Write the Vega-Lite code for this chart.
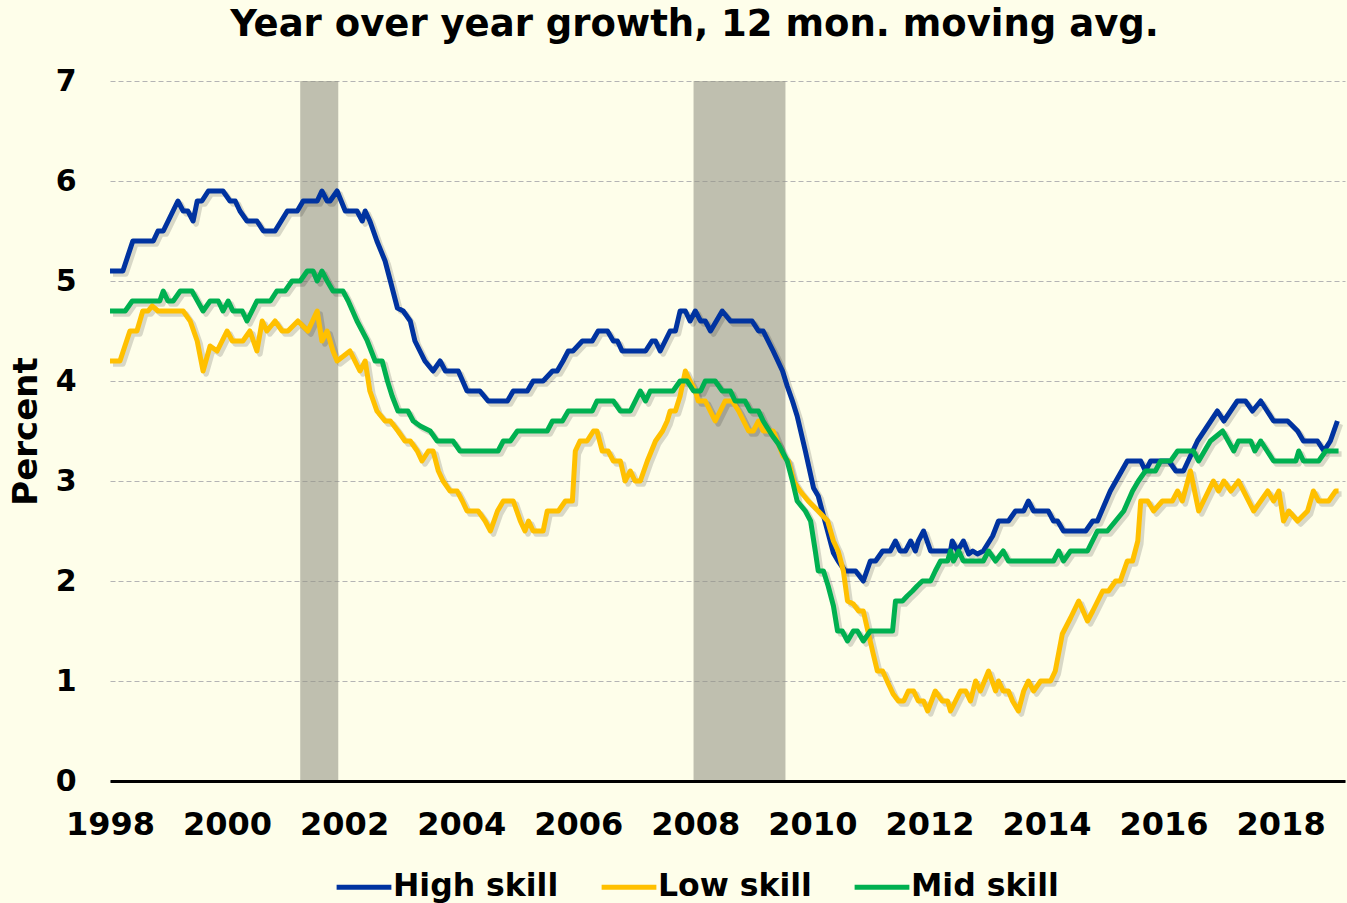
{
  "$schema": "https://vega.github.io/schema/vega-lite/v6.json",
  "width": 1235,
  "height": 700,
  "autosize": {"type": "none"},
  "padding": {"left": 110, "top": 81, "right": 2, "bottom": 122},
  "background": "#FEFEEA",
  "config": {"view": {"stroke": null}, "font": "DejaVu Sans"},
  "title": {"text": "Year over year growth, 12 mon. moving avg.", "font": "DejaVu Sans", "fontSize": 37, "fontWeight": "bold", "color": "#000000", "anchor": "middle", "frame": "group", "dx": -33, "offset": 22},
  "datasets": {
    "rec": [{"d": 2001.25, "d2": 2001.9}, {"d": 2007.97, "d2": 2009.54}],
    "lines": [
      {"s":"High skill","d":1998.0,"v":5.1},{"s":"High skill","d":1998.22,"v":5.1},{"s":"High skill","d":1998.39,"v":5.4},{"s":"High skill","d":1998.74,"v":5.4},{"s":"High skill","d":1998.82,"v":5.5},{"s":"High skill","d":1998.91,"v":5.5},{"s":"High skill","d":1999.16,"v":5.8},{"s":"High skill","d":1999.25,"v":5.7},{"s":"High skill","d":1999.33,"v":5.7},{"s":"High skill","d":1999.42,"v":5.6},{"s":"High skill","d":1999.49,"v":5.8},{"s":"High skill","d":1999.57,"v":5.8},{"s":"High skill","d":1999.68,"v":5.9},{"s":"High skill","d":1999.93,"v":5.9},{"s":"High skill","d":2000.05,"v":5.8},{"s":"High skill","d":2000.14,"v":5.8},{"s":"High skill","d":2000.22,"v":5.7},{"s":"High skill","d":2000.34,"v":5.6},{"s":"High skill","d":2000.51,"v":5.6},{"s":"High skill","d":2000.62,"v":5.5},{"s":"High skill","d":2000.82,"v":5.5},{"s":"High skill","d":2001.03,"v":5.7},{"s":"High skill","d":2001.2,"v":5.7},{"s":"High skill","d":2001.3,"v":5.8},{"s":"High skill","d":2001.54,"v":5.8},{"s":"High skill","d":2001.62,"v":5.9},{"s":"High skill","d":2001.71,"v":5.8},{"s":"High skill","d":2001.76,"v":5.8},{"s":"High skill","d":2001.88,"v":5.9},{"s":"High skill","d":2002.02,"v":5.7},{"s":"High skill","d":2002.22,"v":5.7},{"s":"High skill","d":2002.31,"v":5.6},{"s":"High skill","d":2002.36,"v":5.7},{"s":"High skill","d":2002.44,"v":5.6},{"s":"High skill","d":2002.56,"v":5.4},{"s":"High skill","d":2002.7,"v":5.2},{"s":"High skill","d":2002.79,"v":5.0},{"s":"High skill","d":2002.91,"v":4.73},{"s":"High skill","d":2003.01,"v":4.7},{"s":"High skill","d":2003.13,"v":4.6},{"s":"High skill","d":2003.21,"v":4.4},{"s":"High skill","d":2003.38,"v":4.2},{"s":"High skill","d":2003.52,"v":4.1},{"s":"High skill","d":2003.64,"v":4.2},{"s":"High skill","d":2003.73,"v":4.1},{"s":"High skill","d":2003.95,"v":4.1},{"s":"High skill","d":2004.1,"v":3.9},{"s":"High skill","d":2004.32,"v":3.9},{"s":"High skill","d":2004.46,"v":3.8},{"s":"High skill","d":2004.79,"v":3.8},{"s":"High skill","d":2004.89,"v":3.9},{"s":"High skill","d":2005.13,"v":3.9},{"s":"High skill","d":2005.23,"v":4.0},{"s":"High skill","d":2005.4,"v":4.0},{"s":"High skill","d":2005.56,"v":4.1},{"s":"High skill","d":2005.64,"v":4.1},{"s":"High skill","d":2005.74,"v":4.2},{"s":"High skill","d":2005.83,"v":4.3},{"s":"High skill","d":2005.91,"v":4.3},{"s":"High skill","d":2006.07,"v":4.4},{"s":"High skill","d":2006.24,"v":4.4},{"s":"High skill","d":2006.34,"v":4.5},{"s":"High skill","d":2006.5,"v":4.5},{"s":"High skill","d":2006.6,"v":4.4},{"s":"High skill","d":2006.67,"v":4.4},{"s":"High skill","d":2006.75,"v":4.3},{"s":"High skill","d":2007.15,"v":4.3},{"s":"High skill","d":2007.26,"v":4.4},{"s":"High skill","d":2007.32,"v":4.4},{"s":"High skill","d":2007.4,"v":4.3},{"s":"High skill","d":2007.57,"v":4.5},{"s":"High skill","d":2007.66,"v":4.5},{"s":"High skill","d":2007.74,"v":4.7},{"s":"High skill","d":2007.83,"v":4.7},{"s":"High skill","d":2007.91,"v":4.6},{"s":"High skill","d":2008.0,"v":4.7},{"s":"High skill","d":2008.09,"v":4.6},{"s":"High skill","d":2008.17,"v":4.6},{"s":"High skill","d":2008.26,"v":4.5},{"s":"High skill","d":2008.46,"v":4.7},{"s":"High skill","d":2008.6,"v":4.6},{"s":"High skill","d":2008.97,"v":4.6},{"s":"High skill","d":2009.08,"v":4.5},{"s":"High skill","d":2009.16,"v":4.5},{"s":"High skill","d":2009.33,"v":4.3},{"s":"High skill","d":2009.49,"v":4.1},{"s":"High skill","d":2009.57,"v":3.95},{"s":"High skill","d":2009.66,"v":3.8},{"s":"High skill","d":2009.74,"v":3.65},{"s":"High skill","d":2009.88,"v":3.3},{"s":"High skill","d":2010.02,"v":2.93},{"s":"High skill","d":2010.1,"v":2.85},{"s":"High skill","d":2010.26,"v":2.5},{"s":"High skill","d":2010.36,"v":2.28},{"s":"High skill","d":2010.44,"v":2.2},{"s":"High skill","d":2010.56,"v":2.1},{"s":"High skill","d":2010.74,"v":2.1},{"s":"High skill","d":2010.87,"v":2.0},{"s":"High skill","d":2010.99,"v":2.2},{"s":"High skill","d":2011.08,"v":2.2},{"s":"High skill","d":2011.2,"v":2.3},{"s":"High skill","d":2011.33,"v":2.3},{"s":"High skill","d":2011.42,"v":2.4},{"s":"High skill","d":2011.5,"v":2.3},{"s":"High skill","d":2011.59,"v":2.3},{"s":"High skill","d":2011.68,"v":2.4},{"s":"High skill","d":2011.76,"v":2.3},{"s":"High skill","d":2011.81,"v":2.4},{"s":"High skill","d":2011.9,"v":2.5},{"s":"High skill","d":2012.02,"v":2.3},{"s":"High skill","d":2012.36,"v":2.3},{"s":"High skill","d":2012.39,"v":2.4},{"s":"High skill","d":2012.48,"v":2.3},{"s":"High skill","d":2012.58,"v":2.4},{"s":"High skill","d":2012.67,"v":2.27},{"s":"High skill","d":2012.74,"v":2.3},{"s":"High skill","d":2012.82,"v":2.27},{"s":"High skill","d":2012.92,"v":2.3},{"s":"High skill","d":2013.08,"v":2.45},{"s":"High skill","d":2013.18,"v":2.6},{"s":"High skill","d":2013.35,"v":2.6},{"s":"High skill","d":2013.47,"v":2.7},{"s":"High skill","d":2013.61,"v":2.7},{"s":"High skill","d":2013.69,"v":2.8},{"s":"High skill","d":2013.78,"v":2.7},{"s":"High skill","d":2014.03,"v":2.7},{"s":"High skill","d":2014.12,"v":2.6},{"s":"High skill","d":2014.19,"v":2.6},{"s":"High skill","d":2014.29,"v":2.5},{"s":"High skill","d":2014.67,"v":2.5},{"s":"High skill","d":2014.79,"v":2.6},{"s":"High skill","d":2014.87,"v":2.6},{"s":"High skill","d":2015.09,"v":2.9},{"s":"High skill","d":2015.38,"v":3.2},{"s":"High skill","d":2015.61,"v":3.2},{"s":"High skill","d":2015.69,"v":3.1},{"s":"High skill","d":2015.78,"v":3.2},{"s":"High skill","d":2016.09,"v":3.2},{"s":"High skill","d":2016.21,"v":3.1},{"s":"High skill","d":2016.34,"v":3.1},{"s":"High skill","d":2016.58,"v":3.4},{"s":"High skill","d":2016.92,"v":3.7},{"s":"High skill","d":2017.03,"v":3.6},{"s":"High skill","d":2017.26,"v":3.8},{"s":"High skill","d":2017.4,"v":3.8},{"s":"High skill","d":2017.52,"v":3.7},{"s":"High skill","d":2017.66,"v":3.8},{"s":"High skill","d":2017.88,"v":3.6},{"s":"High skill","d":2018.12,"v":3.6},{"s":"High skill","d":2018.29,"v":3.5},{"s":"High skill","d":2018.39,"v":3.4},{"s":"High skill","d":2018.63,"v":3.4},{"s":"High skill","d":2018.74,"v":3.3},{"s":"High skill","d":2018.85,"v":3.4},{"s":"High skill","d":2018.97,"v":3.6},
      {"s":"Low skill","d":1998.0,"v":4.2},{"s":"Low skill","d":1998.17,"v":4.2},{"s":"Low skill","d":1998.34,"v":4.5},{"s":"Low skill","d":1998.46,"v":4.5},{"s":"Low skill","d":1998.56,"v":4.7},{"s":"Low skill","d":1998.65,"v":4.7},{"s":"Low skill","d":1998.72,"v":4.75},{"s":"Low skill","d":1998.82,"v":4.7},{"s":"Low skill","d":1999.25,"v":4.7},{"s":"Low skill","d":1999.37,"v":4.6},{"s":"Low skill","d":1999.49,"v":4.4},{"s":"Low skill","d":1999.59,"v":4.1},{"s":"Low skill","d":1999.71,"v":4.35},{"s":"Low skill","d":1999.83,"v":4.3},{"s":"Low skill","d":2000.0,"v":4.5},{"s":"Low skill","d":2000.09,"v":4.4},{"s":"Low skill","d":2000.27,"v":4.4},{"s":"Low skill","d":2000.39,"v":4.5},{"s":"Low skill","d":2000.51,"v":4.3},{"s":"Low skill","d":2000.6,"v":4.6},{"s":"Low skill","d":2000.68,"v":4.5},{"s":"Low skill","d":2000.82,"v":4.6},{"s":"Low skill","d":2000.94,"v":4.5},{"s":"Low skill","d":2001.04,"v":4.5},{"s":"Low skill","d":2001.21,"v":4.6},{"s":"Low skill","d":2001.38,"v":4.5},{"s":"Low skill","d":2001.54,"v":4.7},{"s":"Low skill","d":2001.62,"v":4.4},{"s":"Low skill","d":2001.71,"v":4.5},{"s":"Low skill","d":2001.81,"v":4.3},{"s":"Low skill","d":2001.88,"v":4.2},{"s":"Low skill","d":2002.1,"v":4.3},{"s":"Low skill","d":2002.27,"v":4.1},{"s":"Low skill","d":2002.36,"v":4.2},{"s":"Low skill","d":2002.44,"v":3.9},{"s":"Low skill","d":2002.56,"v":3.7},{"s":"Low skill","d":2002.7,"v":3.6},{"s":"Low skill","d":2002.79,"v":3.6},{"s":"Low skill","d":2002.92,"v":3.5},{"s":"Low skill","d":2003.04,"v":3.4},{"s":"Low skill","d":2003.13,"v":3.4},{"s":"Low skill","d":2003.25,"v":3.3},{"s":"Low skill","d":2003.33,"v":3.2},{"s":"Low skill","d":2003.44,"v":3.3},{"s":"Low skill","d":2003.52,"v":3.3},{"s":"Low skill","d":2003.61,"v":3.1},{"s":"Low skill","d":2003.69,"v":3.0},{"s":"Low skill","d":2003.81,"v":2.9},{"s":"Low skill","d":2003.93,"v":2.9},{"s":"Low skill","d":2004.02,"v":2.8},{"s":"Low skill","d":2004.1,"v":2.7},{"s":"Low skill","d":2004.29,"v":2.7},{"s":"Low skill","d":2004.41,"v":2.6},{"s":"Low skill","d":2004.5,"v":2.5},{"s":"Low skill","d":2004.62,"v":2.7},{"s":"Low skill","d":2004.72,"v":2.8},{"s":"Low skill","d":2004.89,"v":2.8},{"s":"Low skill","d":2005.01,"v":2.6},{"s":"Low skill","d":2005.09,"v":2.5},{"s":"Low skill","d":2005.15,"v":2.6},{"s":"Low skill","d":2005.23,"v":2.5},{"s":"Low skill","d":2005.4,"v":2.5},{"s":"Low skill","d":2005.47,"v":2.7},{"s":"Low skill","d":2005.66,"v":2.7},{"s":"Low skill","d":2005.78,"v":2.8},{"s":"Low skill","d":2005.9,"v":2.8},{"s":"Low skill","d":2005.95,"v":3.3},{"s":"Low skill","d":2006.03,"v":3.4},{"s":"Low skill","d":2006.15,"v":3.4},{"s":"Low skill","d":2006.26,"v":3.5},{"s":"Low skill","d":2006.32,"v":3.5},{"s":"Low skill","d":2006.41,"v":3.3},{"s":"Low skill","d":2006.51,"v":3.3},{"s":"Low skill","d":2006.6,"v":3.2},{"s":"Low skill","d":2006.72,"v":3.2},{"s":"Low skill","d":2006.8,"v":3.0},{"s":"Low skill","d":2006.89,"v":3.1},{"s":"Low skill","d":2006.97,"v":3.0},{"s":"Low skill","d":2007.06,"v":3.0},{"s":"Low skill","d":2007.18,"v":3.2},{"s":"Low skill","d":2007.32,"v":3.4},{"s":"Low skill","d":2007.44,"v":3.5},{"s":"Low skill","d":2007.52,"v":3.6},{"s":"Low skill","d":2007.57,"v":3.7},{"s":"Low skill","d":2007.66,"v":3.7},{"s":"Low skill","d":2007.74,"v":3.85},{"s":"Low skill","d":2007.83,"v":4.1},{"s":"Low skill","d":2007.91,"v":4.0},{"s":"Low skill","d":2008.0,"v":3.9},{"s":"Low skill","d":2008.05,"v":3.8},{"s":"Low skill","d":2008.17,"v":3.8},{"s":"Low skill","d":2008.34,"v":3.6},{"s":"Low skill","d":2008.51,"v":3.8},{"s":"Low skill","d":2008.63,"v":3.8},{"s":"Low skill","d":2008.74,"v":3.7},{"s":"Low skill","d":2008.91,"v":3.5},{"s":"Low skill","d":2008.99,"v":3.5},{"s":"Low skill","d":2009.08,"v":3.6},{"s":"Low skill","d":2009.16,"v":3.5},{"s":"Low skill","d":2009.33,"v":3.5},{"s":"Low skill","d":2009.4,"v":3.4},{"s":"Low skill","d":2009.5,"v":3.25},{"s":"Low skill","d":2009.59,"v":3.2},{"s":"Low skill","d":2009.68,"v":3.0},{"s":"Low skill","d":2009.79,"v":2.9},{"s":"Low skill","d":2009.93,"v":2.8},{"s":"Low skill","d":2010.1,"v":2.7},{"s":"Low skill","d":2010.26,"v":2.6},{"s":"Low skill","d":2010.36,"v":2.4},{"s":"Low skill","d":2010.44,"v":2.3},{"s":"Low skill","d":2010.53,"v":2.1},{"s":"Low skill","d":2010.6,"v":1.8},{"s":"Low skill","d":2010.7,"v":1.77},{"s":"Low skill","d":2010.79,"v":1.7},{"s":"Low skill","d":2010.87,"v":1.7},{"s":"Low skill","d":2010.96,"v":1.47},{"s":"Low skill","d":2011.04,"v":1.27},{"s":"Low skill","d":2011.11,"v":1.1},{"s":"Low skill","d":2011.2,"v":1.1},{"s":"Low skill","d":2011.3,"v":0.97},{"s":"Low skill","d":2011.38,"v":0.87},{"s":"Low skill","d":2011.47,"v":0.8},{"s":"Low skill","d":2011.56,"v":0.8},{"s":"Low skill","d":2011.64,"v":0.9},{"s":"Low skill","d":2011.73,"v":0.9},{"s":"Low skill","d":2011.81,"v":0.8},{"s":"Low skill","d":2011.9,"v":0.8},{"s":"Low skill","d":2011.97,"v":0.7},{"s":"Low skill","d":2012.1,"v":0.9},{"s":"Low skill","d":2012.22,"v":0.8},{"s":"Low skill","d":2012.31,"v":0.8},{"s":"Low skill","d":2012.36,"v":0.7},{"s":"Low skill","d":2012.53,"v":0.9},{"s":"Low skill","d":2012.62,"v":0.9},{"s":"Low skill","d":2012.7,"v":0.8},{"s":"Low skill","d":2012.79,"v":1.0},{"s":"Low skill","d":2012.87,"v":0.9},{"s":"Low skill","d":2013.01,"v":1.1},{"s":"Low skill","d":2013.13,"v":0.9},{"s":"Low skill","d":2013.18,"v":1.0},{"s":"Low skill","d":2013.26,"v":0.9},{"s":"Low skill","d":2013.35,"v":0.9},{"s":"Low skill","d":2013.42,"v":0.8},{"s":"Low skill","d":2013.52,"v":0.7},{"s":"Low skill","d":2013.61,"v":0.9},{"s":"Low skill","d":2013.69,"v":1.0},{"s":"Low skill","d":2013.78,"v":0.9},{"s":"Low skill","d":2013.9,"v":1.0},{"s":"Low skill","d":2014.07,"v":1.0},{"s":"Low skill","d":2014.15,"v":1.1},{"s":"Low skill","d":2014.27,"v":1.47},{"s":"Low skill","d":2014.41,"v":1.63},{"s":"Low skill","d":2014.55,"v":1.8},{"s":"Low skill","d":2014.7,"v":1.6},{"s":"Low skill","d":2014.79,"v":1.7},{"s":"Low skill","d":2014.96,"v":1.9},{"s":"Low skill","d":2015.06,"v":1.9},{"s":"Low skill","d":2015.18,"v":2.0},{"s":"Low skill","d":2015.26,"v":2.0},{"s":"Low skill","d":2015.38,"v":2.2},{"s":"Low skill","d":2015.47,"v":2.2},{"s":"Low skill","d":2015.56,"v":2.4},{"s":"Low skill","d":2015.61,"v":2.8},{"s":"Low skill","d":2015.73,"v":2.8},{"s":"Low skill","d":2015.83,"v":2.7},{"s":"Low skill","d":2015.98,"v":2.8},{"s":"Low skill","d":2016.15,"v":2.8},{"s":"Low skill","d":2016.24,"v":2.9},{"s":"Low skill","d":2016.32,"v":2.8},{"s":"Low skill","d":2016.46,"v":3.1},{"s":"Low skill","d":2016.6,"v":2.7},{"s":"Low skill","d":2016.85,"v":3.0},{"s":"Low skill","d":2016.94,"v":2.9},{"s":"Low skill","d":2017.03,"v":3.0},{"s":"Low skill","d":2017.15,"v":2.9},{"s":"Low skill","d":2017.28,"v":3.0},{"s":"Low skill","d":2017.54,"v":2.7},{"s":"Low skill","d":2017.78,"v":2.9},{"s":"Low skill","d":2017.88,"v":2.8},{"s":"Low skill","d":2017.97,"v":2.9},{"s":"Low skill","d":2018.05,"v":2.6},{"s":"Low skill","d":2018.14,"v":2.7},{"s":"Low skill","d":2018.29,"v":2.6},{"s":"Low skill","d":2018.46,"v":2.7},{"s":"Low skill","d":2018.56,"v":2.9},{"s":"Low skill","d":2018.65,"v":2.8},{"s":"Low skill","d":2018.82,"v":2.8},{"s":"Low skill","d":2018.94,"v":2.9},{"s":"Low skill","d":2018.99,"v":2.9},
      {"s":"Mid skill","d":1998.0,"v":4.7},{"s":"Mid skill","d":1998.26,"v":4.7},{"s":"Mid skill","d":1998.38,"v":4.8},{"s":"Mid skill","d":1998.85,"v":4.8},{"s":"Mid skill","d":1998.91,"v":4.9},{"s":"Mid skill","d":1998.99,"v":4.8},{"s":"Mid skill","d":1999.08,"v":4.8},{"s":"Mid skill","d":1999.2,"v":4.9},{"s":"Mid skill","d":1999.4,"v":4.9},{"s":"Mid skill","d":1999.59,"v":4.7},{"s":"Mid skill","d":1999.71,"v":4.8},{"s":"Mid skill","d":1999.85,"v":4.8},{"s":"Mid skill","d":1999.93,"v":4.7},{"s":"Mid skill","d":2000.02,"v":4.8},{"s":"Mid skill","d":2000.1,"v":4.7},{"s":"Mid skill","d":2000.26,"v":4.7},{"s":"Mid skill","d":2000.34,"v":4.6},{"s":"Mid skill","d":2000.51,"v":4.8},{"s":"Mid skill","d":2000.74,"v":4.8},{"s":"Mid skill","d":2000.85,"v":4.9},{"s":"Mid skill","d":2000.99,"v":4.9},{"s":"Mid skill","d":2001.11,"v":5.0},{"s":"Mid skill","d":2001.25,"v":5.0},{"s":"Mid skill","d":2001.37,"v":5.1},{"s":"Mid skill","d":2001.47,"v":5.1},{"s":"Mid skill","d":2001.54,"v":5.0},{"s":"Mid skill","d":2001.62,"v":5.1},{"s":"Mid skill","d":2001.71,"v":5.0},{"s":"Mid skill","d":2001.81,"v":4.9},{"s":"Mid skill","d":2001.98,"v":4.9},{"s":"Mid skill","d":2002.07,"v":4.8},{"s":"Mid skill","d":2002.22,"v":4.6},{"s":"Mid skill","d":2002.31,"v":4.5},{"s":"Mid skill","d":2002.39,"v":4.41},{"s":"Mid skill","d":2002.53,"v":4.2},{"s":"Mid skill","d":2002.65,"v":4.2},{"s":"Mid skill","d":2002.74,"v":4.0},{"s":"Mid skill","d":2002.82,"v":3.85},{"s":"Mid skill","d":2002.92,"v":3.7},{"s":"Mid skill","d":2003.09,"v":3.7},{"s":"Mid skill","d":2003.18,"v":3.6},{"s":"Mid skill","d":2003.3,"v":3.55},{"s":"Mid skill","d":2003.47,"v":3.5},{"s":"Mid skill","d":2003.59,"v":3.4},{"s":"Mid skill","d":2003.86,"v":3.4},{"s":"Mid skill","d":2003.98,"v":3.3},{"s":"Mid skill","d":2004.63,"v":3.3},{"s":"Mid skill","d":2004.72,"v":3.4},{"s":"Mid skill","d":2004.84,"v":3.4},{"s":"Mid skill","d":2004.96,"v":3.5},{"s":"Mid skill","d":2005.47,"v":3.5},{"s":"Mid skill","d":2005.56,"v":3.6},{"s":"Mid skill","d":2005.73,"v":3.6},{"s":"Mid skill","d":2005.83,"v":3.7},{"s":"Mid skill","d":2006.24,"v":3.7},{"s":"Mid skill","d":2006.32,"v":3.8},{"s":"Mid skill","d":2006.6,"v":3.8},{"s":"Mid skill","d":2006.72,"v":3.7},{"s":"Mid skill","d":2006.89,"v":3.7},{"s":"Mid skill","d":2007.06,"v":3.9},{"s":"Mid skill","d":2007.15,"v":3.8},{"s":"Mid skill","d":2007.23,"v":3.9},{"s":"Mid skill","d":2007.62,"v":3.9},{"s":"Mid skill","d":2007.74,"v":4.0},{"s":"Mid skill","d":2007.86,"v":4.0},{"s":"Mid skill","d":2007.97,"v":3.9},{"s":"Mid skill","d":2008.09,"v":3.9},{"s":"Mid skill","d":2008.17,"v":4.0},{"s":"Mid skill","d":2008.34,"v":4.0},{"s":"Mid skill","d":2008.46,"v":3.9},{"s":"Mid skill","d":2008.6,"v":3.9},{"s":"Mid skill","d":2008.68,"v":3.8},{"s":"Mid skill","d":2008.85,"v":3.8},{"s":"Mid skill","d":2008.94,"v":3.7},{"s":"Mid skill","d":2009.08,"v":3.7},{"s":"Mid skill","d":2009.16,"v":3.6},{"s":"Mid skill","d":2009.32,"v":3.45},{"s":"Mid skill","d":2009.42,"v":3.37},{"s":"Mid skill","d":2009.57,"v":3.2},{"s":"Mid skill","d":2009.66,"v":3.0},{"s":"Mid skill","d":2009.74,"v":2.8},{"s":"Mid skill","d":2009.88,"v":2.7},{"s":"Mid skill","d":2009.97,"v":2.6},{"s":"Mid skill","d":2010.05,"v":2.3},{"s":"Mid skill","d":2010.1,"v":2.1},{"s":"Mid skill","d":2010.19,"v":2.1},{"s":"Mid skill","d":2010.27,"v":1.95},{"s":"Mid skill","d":2010.36,"v":1.75},{"s":"Mid skill","d":2010.43,"v":1.5},{"s":"Mid skill","d":2010.51,"v":1.5},{"s":"Mid skill","d":2010.6,"v":1.4},{"s":"Mid skill","d":2010.7,"v":1.5},{"s":"Mid skill","d":2010.77,"v":1.5},{"s":"Mid skill","d":2010.87,"v":1.4},{"s":"Mid skill","d":2010.99,"v":1.5},{"s":"Mid skill","d":2011.37,"v":1.5},{"s":"Mid skill","d":2011.42,"v":1.8},{"s":"Mid skill","d":2011.54,"v":1.8},{"s":"Mid skill","d":2011.62,"v":1.85},{"s":"Mid skill","d":2011.71,"v":1.9},{"s":"Mid skill","d":2011.79,"v":1.95},{"s":"Mid skill","d":2011.88,"v":2.0},{"s":"Mid skill","d":2012.02,"v":2.0},{"s":"Mid skill","d":2012.1,"v":2.1},{"s":"Mid skill","d":2012.19,"v":2.2},{"s":"Mid skill","d":2012.31,"v":2.2},{"s":"Mid skill","d":2012.36,"v":2.3},{"s":"Mid skill","d":2012.41,"v":2.2},{"s":"Mid skill","d":2012.5,"v":2.3},{"s":"Mid skill","d":2012.58,"v":2.2},{"s":"Mid skill","d":2012.92,"v":2.2},{"s":"Mid skill","d":2013.01,"v":2.3},{"s":"Mid skill","d":2013.13,"v":2.2},{"s":"Mid skill","d":2013.26,"v":2.3},{"s":"Mid skill","d":2013.35,"v":2.2},{"s":"Mid skill","d":2014.12,"v":2.2},{"s":"Mid skill","d":2014.21,"v":2.3},{"s":"Mid skill","d":2014.29,"v":2.2},{"s":"Mid skill","d":2014.41,"v":2.3},{"s":"Mid skill","d":2014.7,"v":2.3},{"s":"Mid skill","d":2014.87,"v":2.5},{"s":"Mid skill","d":2015.04,"v":2.5},{"s":"Mid skill","d":2015.18,"v":2.6},{"s":"Mid skill","d":2015.32,"v":2.7},{"s":"Mid skill","d":2015.47,"v":2.9},{"s":"Mid skill","d":2015.57,"v":3.0},{"s":"Mid skill","d":2015.69,"v":3.1},{"s":"Mid skill","d":2015.86,"v":3.1},{"s":"Mid skill","d":2015.95,"v":3.2},{"s":"Mid skill","d":2016.12,"v":3.2},{"s":"Mid skill","d":2016.24,"v":3.3},{"s":"Mid skill","d":2016.51,"v":3.3},{"s":"Mid skill","d":2016.6,"v":3.2},{"s":"Mid skill","d":2016.8,"v":3.4},{"s":"Mid skill","d":2017.01,"v":3.5},{"s":"Mid skill","d":2017.2,"v":3.3},{"s":"Mid skill","d":2017.28,"v":3.4},{"s":"Mid skill","d":2017.49,"v":3.4},{"s":"Mid skill","d":2017.56,"v":3.3},{"s":"Mid skill","d":2017.66,"v":3.4},{"s":"Mid skill","d":2017.88,"v":3.2},{"s":"Mid skill","d":2018.26,"v":3.2},{"s":"Mid skill","d":2018.31,"v":3.3},{"s":"Mid skill","d":2018.39,"v":3.2},{"s":"Mid skill","d":2018.65,"v":3.2},{"s":"Mid skill","d":2018.77,"v":3.3},{"s":"Mid skill","d":2018.99,"v":3.3}
    ]
  },
  "encoding": {
    "x": {
      "field": "d", "type": "quantitative",
      "scale": {"domain": [1998, 2019.1], "nice": false, "zero": false},
      "axis": {"values": [1998, 2000, 2002, 2004, 2006, 2008, 2010, 2012, 2014, 2016, 2018], "format": "d", "title": null, "grid": false, "ticks": false, "tickSize": 0, "domain": true, "domainColor": "#000000", "domainWidth": 3, "labelFont": "DejaVu Sans", "labelFontSize": 32, "labelFontWeight": "bold", "labelColor": "#000000", "labelPadding": 28, "labelFlush": false, "labelOverlap": false, "zindex": 1}
    }
  },
  "layer": [
    {
      "data": {"name": "rec"},
      "mark": {"type": "rect", "color": "#959587", "opacity": 0.6},
      "encoding": {"x2": {"field": "d2"}}
    },
    {
      "data": {"name": "lines"},
      "mark": {"type": "line", "color": "#000000", "opacity": 0.15, "strokeWidth": 5.5, "xOffset": 3, "yOffset": 3, "strokeJoin": "round"},
      "encoding": {
        "y": {"field": "v", "type": "quantitative", "scale": {"domain": [0, 7], "nice": false}},
        "detail": {"field": "s"},
        "order": {"field": "d", "type": "quantitative"}
      }
    },
    {
      "data": {"name": "lines"},
      "mark": {"type": "line", "strokeWidth": 5, "strokeJoin": "round"},
      "encoding": {
        "y": {
          "field": "v", "type": "quantitative",
          "scale": {"domain": [0, 7], "nice": false},
          "axis": {"values": [0, 1, 2, 3, 4, 5, 6, 7], "format": "d", "title": "Percent", "titleFont": "DejaVu Sans", "titleFontSize": 34, "titleFontWeight": "bold", "titleColor": "#000000", "titlePadding": 12, "grid": true, "gridColor": "#B4B4B4", "gridDash": [5, 3], "gridWidth": 1.2, "domain": false, "ticks": false, "tickSize": 0, "labelFont": "DejaVu Sans", "labelFontSize": 30, "labelFontWeight": "bold", "labelColor": "#000000", "labelPadding": 34}
        },
        "order": {"field": "d", "type": "quantitative"},
        "color": {
          "field": "s", "type": "nominal",
          "scale": {"domain": ["High skill", "Low skill", "Mid skill"], "range": ["#0033A0", "#FFC000", "#00B050"]},
          "legend": {"title": null, "orient": "none", "direction": "horizontal", "legendX": 224, "legendY": 776, "symbolType": "stroke", "symbolSize": 3000, "symbolStrokeWidth": 5, "labelFont": "DejaVu Sans", "labelFontSize": 31.5, "labelFontWeight": "bold", "labelColor": "#000000", "labelLimit": 0, "labelOffset": -1, "columnPadding": 32, "symbolOffset": 0}
        }
      }
    }
  ]
}
